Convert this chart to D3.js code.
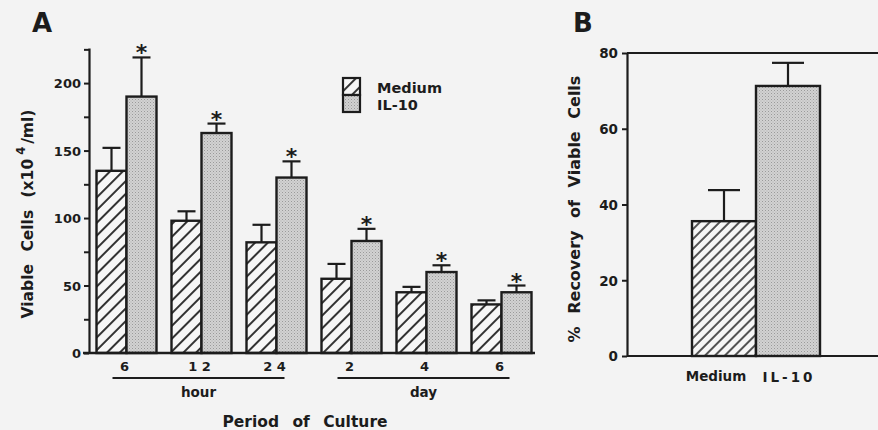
<!DOCTYPE html>
<html>
<head>
<meta charset="utf-8">
<script src="https://cdn.jsdelivr.net/npm/d3@7"></script>
<style>
  html,body{margin:0;padding:0;background:#f3f3f3;}
  svg{display:block;}
  text{font-family:"DejaVu Sans",Verdana,sans-serif;font-weight:bold;fill:#1c1c1c;}
</style>
</head>
<body>
<svg id="chart" width="878" height="430"></svg>
<script>
// ---------- DATA ----------
const periods = ["6", "1 2", "2 4", "2", "4", "6"];
const periodGroups = ["hour", "hour", "hour", "day", "day", "day"];
const mediumA = [135, 98, 82, 55, 45, 36];
const mediumAErr = [17, 7, 13, 11, 4, 3];
const il10A = [190, 163, 130, 83, 60, 45];
const il10AErr = [29, 7, 12, 9, 5, 5];
const yTicksA = [0, 25, 50, 75, 100, 125, 150, 175, 200, 225];
const seriesNames = ["Medium", "IL-10"];

const categoriesB = ["Medium", "IL-10"];
const valuesB = [35.6, 71.3];
const errB = [8.2, 6.1];
const yTicksB = [0, 20, 40, 60, 80];

// ---------- SETUP ----------
const ink = "#1c1c1c";
const FONT = "DejaVu Sans, Verdana, sans-serif";
const svg = d3.select("#chart");
const defs = svg.append("defs");

function hatch(id, spacing, sw) {
  const p = defs.append("pattern").attr("id", id).attr("patternUnits", "userSpaceOnUse")
    .attr("width", spacing).attr("height", spacing).attr("patternTransform", "rotate(45)");
  p.append("rect").attr("width", spacing).attr("height", spacing).attr("fill", "#f6f6f6");
  p.append("line").attr("x1", 1).attr("x2", 1).attr("y1", 0).attr("y2", spacing)
    .attr("stroke", ink).attr("stroke-width", sw);
}
hatch("hatchA", 9, 1.8);
hatch("hatchB", 7, 1.5);
const st = defs.append("pattern").attr("id", "stipple").attr("patternUnits", "userSpaceOnUse")
  .attr("width", 3).attr("height", 3);
st.append("rect").attr("width", 3).attr("height", 3).attr("fill", "#d2d2d2");
st.append("rect").attr("width", 1).attr("height", 1).attr("fill", "#9a9a9a");
st.append("rect").attr("x", 1.5).attr("y", 1.5).attr("width", 1).attr("height", 1).attr("fill", "#b0b0b0");

function errBar(g, cx, yTop, yVal, half) {
  g.append("line").attr("x1", cx).attr("x2", cx).attr("y1", yVal).attr("y2", yTop)
    .attr("stroke", ink).attr("stroke-width", 2.2);
  g.append("line").attr("x1", cx - half).attr("x2", cx + half).attr("y1", yTop).attr("y2", yTop)
    .attr("stroke", ink).attr("stroke-width", 2.2);
}

// ---------- PANEL A ----------
const gA = svg.append("g");
const yA = d3.scaleLinear().domain([0, 226]).range([353, 48]);
const xA = d3.scaleBand().domain(d3.range(periods.length)).range([89, 539])
  .paddingInner(0.2).paddingOuter(0.1);
const xSub = d3.scaleBand().domain(seriesNames).range([0, xA.bandwidth()]);

// bars
const fillsA = {"Medium": "url(#hatchA)", "IL-10": "url(#stipple)"};
const dataA = {"Medium": [mediumA, mediumAErr], "IL-10": [il10A, il10AErr]};
seriesNames.forEach(s => {
  const [vals, errs] = dataA[s];
  vals.forEach((v, i) => {
    const x0 = xA(i) + xSub(s);
    const cx = x0 + xSub.bandwidth() / 2;
    errBar(gA, cx, yA(v + errs[i]), yA(v), 9);
    gA.append("rect").attr("x", x0).attr("y", yA(v)).attr("width", xSub.bandwidth())
      .attr("height", yA(0) - yA(v)).attr("fill", fillsA[s]).attr("stroke", ink).attr("stroke-width", 2.4);
    if (s === "IL-10") {
      gA.append("text").attr("x", cx).attr("y", yA(v + errs[i]) + 3).attr("text-anchor", "middle")
        .attr("font-size", 22).text("*");
    }
  });
});

// y axis
const axA = gA.append("g").attr("transform", `translate(${xA.range()[0]},0)`)
  .call(d3.axisLeft(yA).tickValues(yTicksA).tickSize(5).tickSizeOuter(0)
    .tickFormat(d => d % 50 === 0 ? d : ""));
axA.select(".domain").attr("stroke", ink).attr("stroke-width", 2.2);
axA.selectAll(".tick line").attr("stroke", ink).attr("stroke-width", 2);
axA.selectAll(".tick text").attr("font-size", 13).attr("font-family", FONT)
  .attr("font-weight", "bold").attr("fill", ink).attr("x", -8).attr("dy", "0.36em");
// baseline
gA.append("line").attr("x1", xA.range()[0] - 6).attr("x2", xA.range()[1] - 4)
  .attr("y1", yA(0)).attr("y2", yA(0)).attr("stroke", ink).attr("stroke-width", 2.4);

// x tick labels
periods.forEach((p, i) => {
  gA.append("text").attr("x", xA(i) + xA.bandwidth() / 2 - 2).attr("y", yA(0) + 18)
    .attr("text-anchor", "middle").attr("font-size", 13).style("white-space", "pre").text(p);
});
// group lines
const grpNames = Array.from(new Set(periodGroups));
grpNames.forEach(gname => {
  const idx = periodGroups.map((g, i) => g === gname ? i : -1).filter(i => i >= 0);
  const xs = xA(idx[0]) + 16, xe = xA(idx[idx.length - 1]) + xA.bandwidth() - 22;
  gA.append("line").attr("x1", xs).attr("x2", xe).attr("y1", yA(0) + 25).attr("y2", yA(0) + 25)
    .attr("stroke", ink).attr("stroke-width", 2);
  gA.append("text").attr("x", (xs + xe) / 2).attr("y", yA(0) + 44).attr("text-anchor", "middle")
    .attr("font-size", 13.5).text(gname);
});
gA.append("text").attr("x", 305).attr("y", 427).attr("text-anchor", "middle").attr("font-size", 15.5)
  .attr("word-spacing", 8).text("Period of Culture");

// y label
const ylA = gA.append("text").attr("transform", "translate(33,214) rotate(-90)")
  .attr("text-anchor", "middle").attr("font-size", 15.5).attr("word-spacing", 7);
ylA.append("tspan").text("Viable Cells (x10");
ylA.append("tspan").attr("dx", 4).attr("dy", -8).attr("font-size", 11.5).text("4");
ylA.append("tspan").attr("dx", 3).attr("dy", 8).text("/ml)");

gA.append("text").attr("x", 32).attr("y", 32).attr("font-size", 26).text("A");

// legend
const legG = gA.append("g");
seriesNames.forEach((s, i) => {
  legG.append("rect").attr("x", 343).attr("y", 78 + i * 17).attr("width", 17).attr("height", 17)
    .attr("fill", s === "Medium" ? "url(#hatchA)" : "url(#stipple)").attr("stroke", ink).attr("stroke-width", 2.2);
  legG.append("text").attr("x", 377).attr("y", 93 + i * 17).attr("font-size", 14.5).text(s);
});

// ---------- PANEL B ----------
const gB = svg.append("g");
const yB = d3.scaleLinear().domain([0, 80]).range([356, 53]);
const xB = d3.scaleBand().domain(categoriesB).range([692, 820]).padding(0);
const fillsB = ["url(#hatchB)", "url(#stipple)"];
categoriesB.forEach((c, i) => {
  const cx = xB(c) + xB.bandwidth() / 2;
  errBar(gB, cx, yB(valuesB[i] + errB[i]), yB(valuesB[i]), 16);
  gB.append("rect").attr("x", xB(c)).attr("y", yB(valuesB[i])).attr("width", xB.bandwidth())
    .attr("height", yB(0) - yB(valuesB[i])).attr("fill", fillsB[i]).attr("stroke", ink).attr("stroke-width", 2.4);
});
const axB = gB.append("g").attr("transform", "translate(627,0)")
  .call(d3.axisLeft(yB).tickValues(yTicksB).tickSize(5).tickSizeOuter(0));
axB.select(".domain").attr("stroke", ink).attr("stroke-width", 2.2);
axB.selectAll(".tick line").attr("stroke", ink).attr("stroke-width", 2);
axB.selectAll(".tick text").attr("font-size", 13.5).attr("font-family", FONT)
  .attr("font-weight", "bold").attr("fill", ink).attr("x", -9).attr("dy", "0.36em");
// frame lines top and bottom
[0, 80].forEach(v => {
  gB.append("line").attr("x1", 627).attr("x2", 878).attr("y1", yB(v)).attr("y2", yB(v))
    .attr("stroke", ink).attr("stroke-width", 2.2);
});
gB.append("text").attr("x", xB("Medium") + xB.bandwidth() / 2 - 8).attr("y", 381)
  .attr("text-anchor", "middle").attr("font-size", 13.5).text("Medium");
gB.append("text").attr("x", xB("IL-10") + xB.bandwidth() / 2 + 1).attr("y", 382)
  .attr("text-anchor", "middle").attr("font-size", 13.5).attr("letter-spacing", 3).text("IL-10");
gB.append("text").attr("transform", "translate(580,209) rotate(-90)").attr("text-anchor", "middle")
  .attr("font-size", 16).attr("word-spacing", 7).text("% Recovery of Viable Cells");
gB.append("text").attr("x", 573).attr("y", 32).attr("font-size", 26).text("B");
</script>
</body>
</html>
